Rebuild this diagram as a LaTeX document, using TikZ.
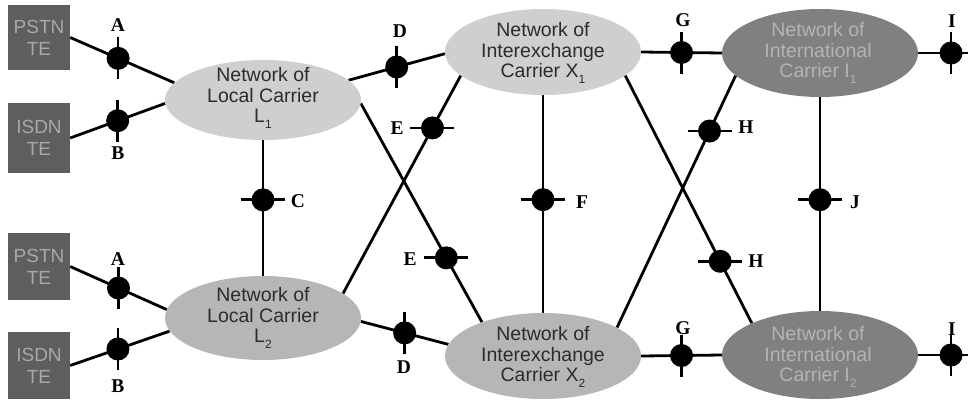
\documentclass[tikz,border=0pt]{standalone}
\usepackage{fontspec}
\setmainfont{Liberation Serif}
\newfontfamily\netsans{Liberation Sans}
\usetikzlibrary{shapes.geometric}
\pgfdeclarelayer{bg}
\pgfsetlayers{bg,main}
\definecolor{boxfill}{HTML}{5E5E5E}
\definecolor{boxtext}{HTML}{A8A8A8}
\definecolor{lfillA}{HTML}{CFCFCF}
\definecolor{lfillB}{HTML}{B6B6B6}
\definecolor{ifill}{HTML}{808080}
\definecolor{itext}{HTML}{B4B4B4}
\definecolor{ltextc}{HTML}{2C2C2C}
\newcommand\mysub[1]{\raisebox{-0.28em}{\fontsize{12}{12}\selectfont #1}}
\tikzset{
  tebox/.style={rectangle, fill=boxfill, text=boxtext, minimum width=62pt, inner sep=0pt,
    align=center, font=\netsans\fontsize{19}{22}\selectfont},
  netell/.style={ellipse, inner sep=0pt, minimum width=196pt},
  nettxt/.style={align=center, inner sep=0pt, font=\netsans\fontsize{19.5}{20.5}\selectfont},
  conn/.style={line width=2.8pt, black},
  mk/.style={circle, fill=black, minimum size=23pt, inner sep=0pt},
  tick/.style={line width=2.8pt, black},
  lab/.style={font=\fontsize{19.5}{19.5}\selectfont\bfseries, inner sep=0pt}
}
\begin{document}
\begin{tikzpicture}[x=1pt,y=-1pt]
\useasboundingbox (0,0) rectangle (968,399);
% terminal boxes
\node[tebox, minimum height=65pt] (P1) at (39,37.5) {PSTN\\TE};
\node[tebox, minimum height=70pt] (S1) at (39,138) {ISDN\\TE};
\node[tebox, minimum height=67pt] (P2) at (39,266.5) {PSTN\\TE};
\node[tebox, minimum height=67pt] (S2) at (39,365.5) {ISDN\\TE};
% networks
\node[netell, fill=lfillA, minimum height=80pt] (L1) at (263,100) {};
\node[netell, fill=lfillB, minimum height=84pt] (L2) at (263,318) {};
\node[netell, fill=lfillA, minimum height=86pt] (X1) at (543,52) {};
\node[netell, fill=lfillB, minimum height=86pt] (X2) at (543,356) {};
\node[netell, fill=ifill, minimum height=88pt] (I1) at (820,53) {};
\node[netell, fill=ifill, minimum height=88pt] (I2) at (820,355) {};
\node[nettxt, text=ltextc] (L1t) at (263,98) {Network of\\Local Carrier\\L\mysub{1}};
\node[nettxt, text=ltextc] (L2t) at (263,318) {Network of\\Local Carrier\\L\mysub{2}};
\node[nettxt, text=ltextc] (X1t) at (543,53) {Network of\\Interexchange\\Carrier X\mysub{1}};
\node[nettxt, text=ltextc] (X2t) at (543,357) {Network of\\Interexchange\\Carrier X\mysub{2}};
\node[nettxt, text=itext] (I1t) at (818,53) {Network of\\International\\Carrier I\mysub{1}};
\node[nettxt, text=itext] (I2t) at (818,357) {Network of\\International\\Carrier I\mysub{2}};
\coordinate (e1) at (968,53);
\coordinate (e2) at (968,355);
% connectors
\begin{pgfonlayer}{bg}
\draw[conn] (P1.east) -- node[mk,pos=.46] (mA1) {} (L1.169);
\draw[conn] (S1.east) -- node[mk,pos=.5] (mB1) {} (L1.182);
\draw[conn] (P2.east) -- node[mk,pos=.5] (mA2) {} (L2.175);
\draw[conn] (S2.east) -- node[mk,pos=.48] (mB2) {} (L2.188);
\draw[conn] (L1.south) -- node[mk,pos=.44] (mC) {} (L2.north);
\draw[conn] (L1.13) -- node[mk,pos=.5] (mD1) {} (X1.181);
\draw[conn] (L2.358) -- node[mk,pos=.5] (mD2) {} (X2.173);
\draw[conn] (X1.196) -- node[mk,pos=.24] (mE1) {} (L2.17);
\draw[conn] (L1.358) -- node[mk,pos=.706] (mE2) {} (X2.151);
\draw[conn] (X1.south) -- node[mk,pos=.48] (mF) {} (X2.north);
\draw[conn] (X1.east) -- node[mk,pos=.5] (mG1) {} (I1.west);
\draw[conn] (X2.east) -- node[mk,pos=.5] (mG2) {} (I2.west);
\draw[conn] (X1.344) -- node[mk,pos=.75] (mH2) {} (I2.155);
\draw[conn] (X2.21) -- node[mk,pos=.78] (mH1) {} (I1.195);
\draw[conn] (I1.south) -- node[mk,pos=.48] (mJ) {} (I2.north);
\draw[conn] (I1.east) -- node[mk,pos=.66] (mI1) {} (e1);
\draw[conn] (I2.east) -- node[mk,pos=.66] (mI2) {} (e2);
\end{pgfonlayer}
% ticks
\foreach \m in {mA1,mB1,mA2,mB2,mD1,mD2,mG1,mG2,mI1,mI2}
  \draw[tick] ([yshift=-21pt]\m.center) -- ([yshift=21pt]\m.center);
\foreach \m in {mC,mE1,mE2,mF,mH1,mH2,mJ}
  \draw[tick] ([xshift=-22pt]\m.center) -- ([xshift=22pt]\m.center);
% labels
\node[lab] (lA1) at (118,25) {A};
\node[lab] (lB1) at (118,153) {B};
\node[lab] (lA2) at (118,259) {A};
\node[lab] (lB2) at (118,386) {B};
\node[lab] (lC) at (298,201) {C};
\node[lab] (lD1) at (400,31) {D};
\node[lab] (lD2) at (404,367) {D};
\node[lab] (lE1) at (397,128) {E};
\node[lab] (lE2) at (410,259) {E};
\node[lab] (lF) at (582,202) {F};
\node[lab] (lG1) at (683,20) {G};
\node[lab] (lG2) at (683,328) {G};
\node[lab] (lH1) at (746,127) {H};
\node[lab] (lH2) at (756,261) {H};
\node[lab] (lI1) at (952,21) {I};
\node[lab] (lI2) at (952,329) {I};
\node[lab] (lJ) at (855,202) {J};
\end{tikzpicture}
\end{document}
